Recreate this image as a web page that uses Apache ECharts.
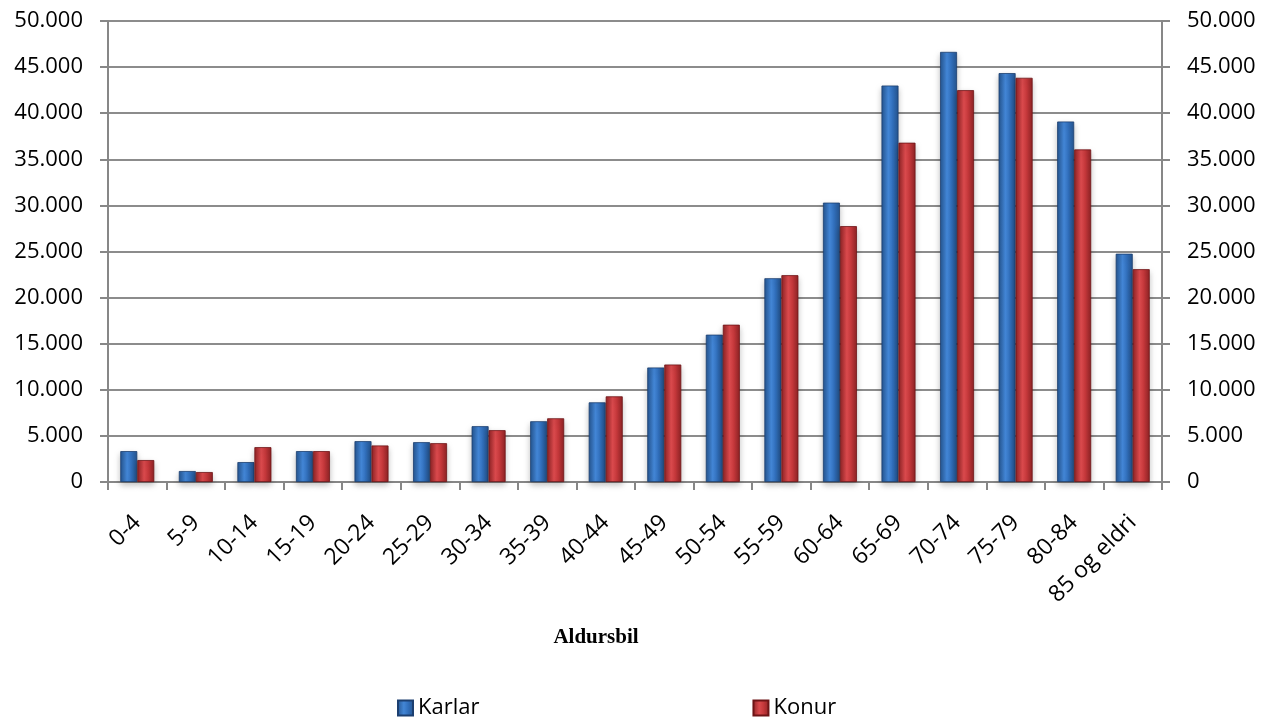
<!DOCTYPE html>
<html>
<head>
<meta charset="utf-8">
<script src="https://cdn.jsdelivr.net/npm/echarts@6/dist/echarts.min.js"></script>
<style>html,body{margin:0;padding:0;background:#fff}#c{width:1271px;height:722px}</style>
</head>
<body>
<div id="c"></div>
<script>
const categories = ['0-4','5-9','10-14','15-19','20-24','25-29','30-34','35-39','40-44','45-49','50-54','55-59','60-64','65-69','70-74','75-79','80-84','85 og eldri'];
const karlar = [3350,1190,2160,3350,4430,4320,6050,6590,8640,12420,15980,22100,30300,43000,46650,44350,39100,24760];
const konur  = [2380,1080,3780,3350,3960,4210,5620,6910,9290,12740,17060,22430,27750,36800,42500,43840,36070,23080];
const yTicks = [0,5000,10000,15000,20000,25000,30000,35000,40000,45000,50000];
const axisTitle = 'Aldursbil';
const seriesNames = ['Karlar','Konur'];

function fmt(v){ return v===0 ? '0' : String(v).replace(/\B(?=(\d{3})+(?!\d))/g,'.'); }
function grad(dark, mid, light){
  return new echarts.graphic.LinearGradient(0,0,1,0,[
    {offset:0,color:dark},{offset:0.4,color:light},{offset:0.65,color:mid},{offset:1,color:dark}]);
}
const blue = grad('#24548f','#3270bd','#4386d6');
const red  = grad('#8e2224','#c5383b','#da4a4d');
const font = 'Open Sans';
const chart = echarts.init(document.getElementById('c'));
const yBase = {
  type:'value', min:yTicks[0], max:yTicks[yTicks.length-1], interval:5000,
  axisLine:{show:true,lineStyle:{color:'#878787',width:2}},
  axisTick:{show:true,length:8,lineStyle:{color:'#878787',width:2}},
  axisLabel:{formatter:fmt,color:'#000',fontFamily:font,fontSize:22,margin:25}
};
chart.setOption({
  animation:false,
  grid:{left:108,right:109,top:21,bottom:240,containLabel:false},
  legend:{
    top:692,left:392,itemGap:273,itemWidth:15,itemHeight:15,icon:'rect',
    textStyle:{fontFamily:font,fontSize:22,color:'#000'},
    data:seriesNames
  },
  xAxis:{
    type:'category',data:categories,
    name:axisTitle,nameLocation:'middle',nameGap:145,
    nameTextStyle:{fontFamily:'Liberation Serif',fontWeight:'bold',fontSize:21,color:'#000',padding:[0,78,0,0]},
    axisLine:{lineStyle:{color:'#878787',width:2}},
    axisTick:{show:true,length:8,alignWithLabel:false,lineStyle:{color:'#878787',width:2}},
    axisLabel:{rotate:45,interval:0,color:'#000',fontFamily:font,fontSize:23,margin:37}
  },
  yAxis:[
    Object.assign({},yBase,{position:'left',splitLine:{show:true,lineStyle:{color:'#8c8c8c',width:2}}}),
    Object.assign({},yBase,{position:'right',splitLine:{show:false}})
  ],
  series:[
    {name:seriesNames[0],type:'bar',data:karlar,barWidth:17,barGap:'0%',
     itemStyle:{color:blue,borderColor:'#1c3f70',borderWidth:0.8,shadowColor:'rgba(0,0,0,0.25)',shadowBlur:6,shadowOffsetY:3}},
    {name:seriesNames[1],type:'bar',data:konur,barWidth:17,barGap:'0%',
     itemStyle:{color:red,borderColor:'#6e1416',borderWidth:0.8,shadowColor:'rgba(0,0,0,0.25)',shadowBlur:6,shadowOffsetY:3}}
  ]
});
</script>
</body>
</html>
